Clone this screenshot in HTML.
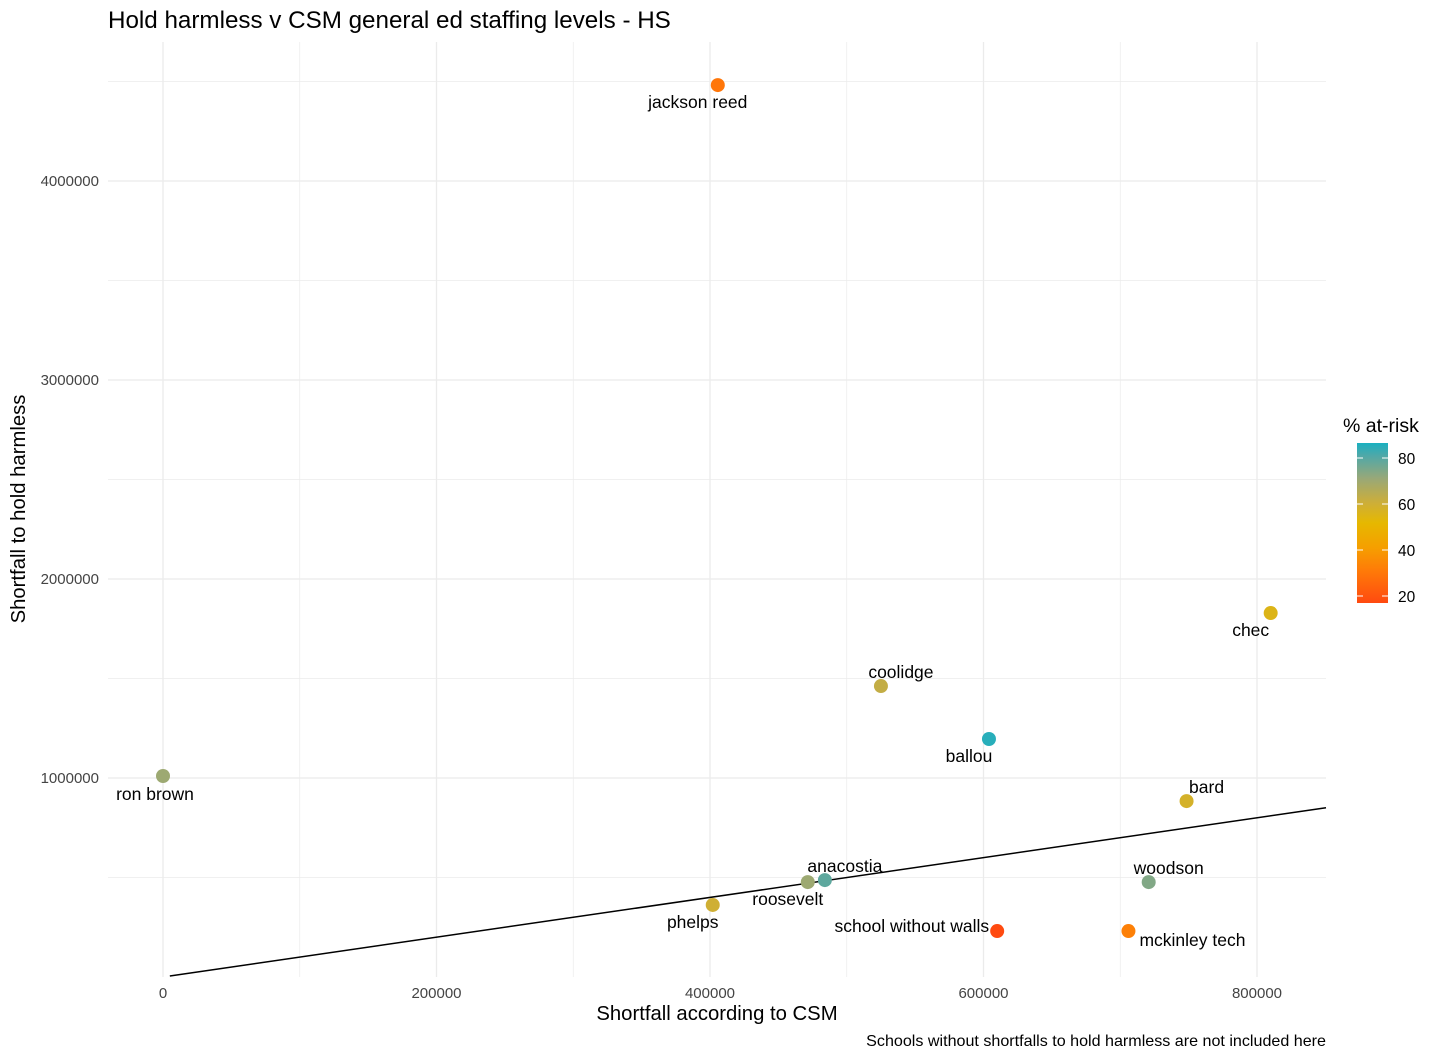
<!DOCTYPE html>
<html><head><meta charset="utf-8"><style>
body{margin:0;background:#fff;font-family:"Liberation Sans",Arial,sans-serif;}
svg text{font-family:"Liberation Sans",Arial,sans-serif;}
</style></head><body>
<svg id="chart" width="1456" height="1059" xmlns="http://www.w3.org/2000/svg">
<text x="108" y="28" font-size="24.2" fill="#000">Hold harmless v CSM general ed staffing levels - HS</text>
<g id="grid"></g><g id="line"></g><g id="pts"></g><g id="axes"></g>
<text x="717" y="1020" font-size="20.3" text-anchor="middle">Shortfall according to CSM</text>
<text transform="translate(25,509) rotate(-90)" font-size="20.3" text-anchor="middle">Shortfall to hold harmless</text>
<text x="1326" y="1046" font-size="16.1" text-anchor="end">Schools without shortfalls to hold harmless are not included here</text>
<g>
<text x="1343" y="432" font-size="19.5">% at-risk</text>
<defs><linearGradient id="cg" x1="0" y1="1" x2="0" y2="0">
<stop offset="0" stop-color="#ff4a10"/><stop offset="0.2" stop-color="#ff7a08"/><stop offset="0.35" stop-color="#f5a000"/><stop offset="0.5" stop-color="#e6b800"/><stop offset="0.63" stop-color="#ccae3a"/><stop offset="0.78" stop-color="#98a878"/><stop offset="0.92" stop-color="#50a8a8"/><stop offset="1" stop-color="#1ab0c0"/></linearGradient></defs>
<rect x="1357" y="443" width="31" height="160" fill="url(#cg)"/>
<g id="leg"></g>
</g>
</svg>
<script>
const schools=["jackson reed","ron brown","coolidge","ballou","chec","bard","woodson","mckinley tech","school without walls","anacostia","roosevelt","phelps"];
const csm=[405700,0,525000,604000,810000,748500,720800,706000,610000,484000,471500,402000];
const hold=[4482000,1010000,1462000,1196000,1829000,884000,477000,231000,231000,487000,477000,362000];
const atRisk=[27,72,64,86,56,59,76,30,17,81,72,61];
const xTicks=[0,200000,400000,600000,800000];
const yTicks=[1000000,2000000,3000000,4000000];
const legTicks=[20,40,60,80];
const lab=[[-20,23,"middle"],[-8,24,"middle"],[20,-8,"middle"],[-20,23,"middle"],[-20,23,"middle"],[20,-8,"middle"],[20,-8,"middle"],[64,15,"middle"],[-8,1,"end"],[20,-8,"middle"],[-20,23,"middle"],[-20,23,"middle"]];
const L=108,R=1326,T=42,B=977;
const X=v=>163+v*(1257-163)/800000;
const Y=v=>977-v*(977-181)/4000000;
const C=v=>596-(v-20)*(596-458)/60;
const NS="http://www.w3.org/2000/svg";
function mk(p,t,a){const e=document.createElementNS(NS,t);for(const k in a)e.setAttribute(k,a[k]);document.getElementById(p).appendChild(e);return e;}
const stops=[[17,[255,74,16]],[28,[255,122,8]],[41,[245,160,0]],[52,[230,184,0]],[62,[204,174,58]],[73,[152,168,120]],[83,[80,168,168]],[87,[26,176,192]]];
function col(v){for(let i=1;i<stops.length;i++){if(v<=stops[i][0]){const a=stops[i-1],b=stops[i];const t=Math.max(0,(v-a[0])/(b[0]-a[0]));return "rgb("+a[1].map((c,j)=>Math.round(c+(b[1][j]-c)*t)).join(",")+")";}}return "rgb(26,176,192)";}
for(let v=-100000;v<=900000;v+=100000){const x=X(v);if(x<L||x>R)continue;const g=mk("grid","line",{x1:x,x2:x,y1:T,y2:B,stroke:"#ebebeb","stroke-width":xTicks.includes(v)?1.3:0.7});}
for(let v=500000;v<=4500000;v+=500000){const y=Y(v);const g=mk("grid","line",{x1:L,x2:R,y1:y,y2:y,stroke:"#ebebeb","stroke-width":yTicks.includes(v)?1.3:0.7});}
xTicks.forEach(v=>{const t=mk("axes","text",{x:X(v),y:998,"font-size":15,fill:"#444","text-anchor":"middle"});t.textContent=v;});
yTicks.forEach(v=>{const t=mk("axes","text",{x:99,y:Y(v)+5,"font-size":15,fill:"#444","text-anchor":"end"});t.textContent=v;});
const ln=mk("line","line",{x1:X(5000),y1:Y(5000),x2:R,y2:Y((R-163)*800000/(1257-163)),stroke:"#000","stroke-width":1.5});

schools.forEach((s,i)=>{
const c=mk("pts","circle",{cx:X(csm[i]),cy:Y(hold[i]),r:7,fill:col(atRisk[i])});

const t=mk("pts","text",{x:X(csm[i])+lab[i][0],y:Y(hold[i])+lab[i][1],"font-size":17.5,"text-anchor":lab[i][2]});
t.textContent=s;
});
legTicks.forEach(v=>{
const a=mk("leg","line",{x1:1357,x2:1363,y1:C(v),y2:C(v),stroke:"#fff","stroke-width":1});
const b=mk("leg","line",{x1:1382,x2:1388,y1:C(v),y2:C(v),stroke:"#fff","stroke-width":1});
const t=mk("leg","text",{x:1398,y:C(v)+6,"font-size":15.5});t.textContent=v;
});
</script>
</body></html>
